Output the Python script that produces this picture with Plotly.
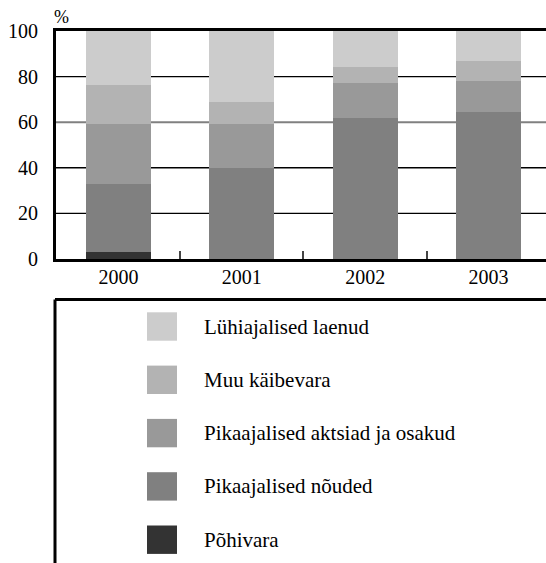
import plotly.graph_objects as go

# Asset structure by year, percent of total (stacked bottom to top)
years = ["2000", "2001", "2002", "2003"]
series_names = [
    "Põhivara",
    "Pikaajalised nõuded",
    "Pikaajalised aktsiad ja osakud",
    "Muu käibevara",
    "Lühiajalised laenud",
]
pohivara = [3, 0, 0, 0]
nouded = [30, 40, 62, 64.5]
aktsiad = [26, 19, 15, 13.5]
muu_kaibevara = [17.5, 10, 7, 9]
luhiajalised_laenud = [23.5, 31, 16, 13]
series_values = [pohivara, nouded, aktsiad, muu_kaibevara, luhiajalised_laenud]
series_colors = ["#333333", "#808080", "#999999", "#b3b3b3", "#cccccc"]

y_ticks = [0, 20, 40, 60, 80, 100]
grid_values = [20, 40, 60, 80]
grid_colors = ["#000000", "#000000", "#808080", "#000000"]

W, H = 546, 563
L, R, T, B = 56, 0, 31, 304
FONT = "Times New Roman"


def px_x(px):
    return (px - L) / (W - L - R)


def px_y(py):
    return (H - B - py) / (H - T - B)


fig = go.Figure()
for name, vals, col in zip(series_names, series_values, series_colors):
    fig.add_trace(go.Bar(
        x=years, y=vals, name=name,
        marker=dict(color=col, line=dict(width=0)),
        showlegend=False,
    ))

shapes = []
# horizontal reference lines behind the bars
for gv, gc in zip(grid_values, grid_colors):
    shapes.append(dict(type="line", xref="paper", yref="y", x0=0, x1=1,
                       y0=gv, y1=gv, layer="below",
                       line=dict(color=gc, width=2 if gc != "#000000" else 1.4)))

# legend frame (top and left edges)
shapes.append(dict(type="line", xref="paper", yref="paper",
                   x0=px_x(55), x1=px_x(W + 5), y0=px_y(299.5), y1=px_y(299.5),
                   line=dict(color="#000000", width=3)))
shapes.append(dict(type="line", xref="paper", yref="paper",
                   x0=px_x(55), x1=px_x(55), y0=px_y(299.5), y1=px_y(H + 5),
                   line=dict(color="#000000", width=3)))

annotations = [dict(text="%", xref="paper", yref="paper",
                    x=px_x(61.5), y=px_y(17), showarrow=False,
                    xanchor="center", yanchor="middle",
                    font=dict(family=FONT, size=18, color="#000000"))]

# legend entries, top to bottom in reverse stack order
row_y0, row_step = 326.5, 53.3
for i, (name, col) in enumerate(zip(series_names[::-1], series_colors[::-1])):
    cy = row_y0 + i * row_step
    shapes.append(dict(type="rect", xref="paper", yref="paper",
                       x0=px_x(147), x1=px_x(177),
                       y0=px_y(cy - 14.2), y1=px_y(cy + 14.2),
                       fillcolor=col, line=dict(width=0)))
    annotations.append(dict(text=name, xref="paper", yref="paper",
                            x=px_x(201.5), y=px_y(cy), showarrow=False,
                            xanchor="left", yanchor="middle",
                            font=dict(family=FONT, size=21, color="#000000")))

fig.update_layout(
    width=W, height=H,
    margin=dict(l=L, r=R, t=T, b=B, pad=0),
    paper_bgcolor="white", plot_bgcolor="white",
    barmode="stack", bargap=0.474,
    shapes=shapes, annotations=annotations,
    showlegend=False,
    xaxis=dict(
        type="category", range=[-0.506, 3.466],
        showgrid=False, zeroline=False,
        showline=True, linecolor="#000000", linewidth=3, mirror=True,
        tickson="boundaries", ticks="inside", ticklen=8,
        tickcolor="#444444", tickwidth=1.5,
        ticklabelstandoff=-2,
        tickfont=dict(family=FONT, size=20, color="#000000"),
    ),
    yaxis=dict(
        range=[0, 100], tickvals=y_ticks,
        showgrid=False, zeroline=False,
        showline=True, linecolor="#000000", linewidth=3,
        ticks="", ticklabelstandoff=11,
        tickfont=dict(family=FONT, size=20, color="#000000"),
    ),
)

fig.write_html("out.html")
